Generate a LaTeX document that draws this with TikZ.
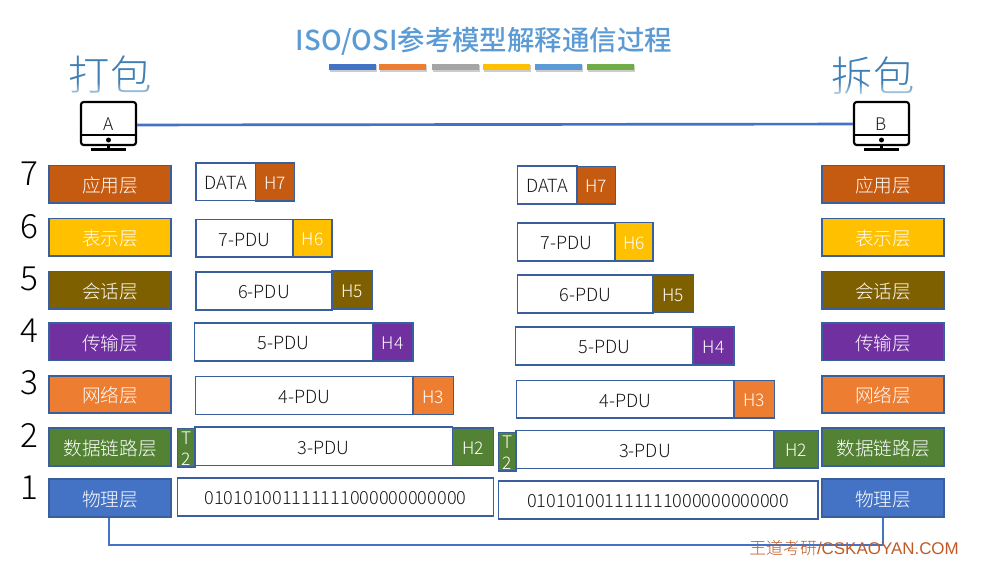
\documentclass[tikz,border=0pt]{standalone}
\usepackage{fontspec}
\setmainfont{Noto Sans CJK SC}[UprightFont=* Light,BoldFont=* Medium]
\newfontfamily\arialf{Liberation Sans}
\usetikzlibrary{fadings}
\definecolor{edge}{HTML}{3A5F9F}
\definecolor{cApp}{HTML}{C55A11}
\definecolor{cPre}{HTML}{FFC000}
\definecolor{cSes}{HTML}{7F6000}
\definecolor{cTra}{HTML}{7030A0}
\definecolor{cNet}{HTML}{ED7D31}
\definecolor{cDat}{HTML}{548235}
\definecolor{cPhy}{HTML}{4472C4}
\definecolor{cSky}{HTML}{5B9BD5}
\definecolor{cGry}{HTML}{A5A5A5}
\definecolor{cGrn}{HTML}{70AD47}
\definecolor{cHead}{HTML}{3F7FB5}
\definecolor{cMark}{HTML}{BF5B26}
\tikzset{
  layer/.style={rectangle,draw=edge,line width=0.8pt,inner sep=0pt,text=white,font=\fontsize{14}{16}\selectfont},
  pdu/.style={rectangle,draw=edge,line width=0.8pt,fill=white,inner sep=0pt,text=black!90,font=\fontsize{13.6}{15}\selectfont},
  hdr/.style={rectangle,draw=edge,line width=0.8pt,inner sep=0pt,text=white,font=\fontsize{13}{15}\selectfont},
  num/.style={inner sep=0pt,text=black,font=\fontsize{25}{28}\selectfont},
  link/.style={draw=cPhy,line width=2pt,line join=miter},
  screen/.style={rectangle,rounded corners=2pt,draw=black,line width=1.6pt,fill=white,inner sep=0pt,minimum width=41.25pt,minimum height=32.25pt},
  pack/.style={inner sep=0pt,text=cHead,font=\fontsize{31}{34}\selectfont}
}
% \bx{style}{name}{x1}{y1}{x2}{y2}{fill}{text}
\newcommand{\bx}[8]{\pgfmathsetmacro{\bw}{(#5-#3)*0.75}\pgfmathsetmacro{\bh}{(#6-#4)*0.75}%
  \node[#1,fill=#7,minimum width=\bw pt,minimum height=\bh pt] (#2) at ({(#3+#5)/2},{(#4+#6)/2}) {\raisebox{-1pt}[\height][\depth]{#8}};}
\newcommand{\stackedT}{\raisebox{0.3pt}[\height][\depth]{\vbox{\baselineskip=15.5pt\lineskiplimit=-20pt\hbox to 12pt{\hss T\hss}\hbox to 12pt{\hss 2\hss}}}}
\newcommand{\compu}[3]{%
  \node[screen] (#1) at (#2,123.5) {};
  \draw[black,line width=1.6pt] (#1.west |- 0,135) -- (#1.east |- 0,135);
  \fill[black] (#2,140) circle (2.5);
  \draw[black,line width=1.6pt] (#2,145) -- (#2,149);
  \draw[black,line width=1.6pt] (#2-17.5,149.5) -- (#2+17.5,149.5);
  \node[inner sep=0pt,font=\fontsize{13}{15}\selectfont,text=black!90] at (#2,124.5) {#3};}
\begin{document}
\begin{tikzpicture}[x=0.75pt,y=-0.75pt]
\useasboundingbox (0,0) rectangle (1003,568);
\fill[white] (0,0) rectangle (1003,568);
% title
\node[inner sep=0pt,text=cSky,font=\fontsize{20.6}{24}\selectfont\bfseries] (title) at (484,41) {ISO/OSI参考模型解释通信过程};
\foreach \a/\b/\c in {329/376/cPhy,379/426/cNet,432/479/cGry,483/530/cPre,535/582/cSky,587/634/cGrn}{
  \fill[black!20] (\a+1,65) rectangle (\b+1,71.5);
  \fill[\c] (\a,64) rectangle (\b,70);
}
% pack labels
\node[pack] (pa) at (110,75) {打包};
\node[pack] (pb) at (873,76) {拆包};
\fill[white,path fading=north] (60,82) rectangle (160,101);
\fill[white,path fading=north] (825,82) rectangle (925,101);
% computers
\compu{A}{108.5}{A}
\compu{B}{881.5}{B}
\draw[link] ([yshift=-1.1pt]A.east) -- ([yshift=-0.4pt]B.west);
% numbers
\foreach \n/\y in {7/174,6/227,5/279,4/331,3/383,2/435,1/488}{
  \node[num] (n\n) at (29,\y) {\n};
}
% left layers
\bx{layer}{la7}{49}{165.5}{171}{203}{cApp}{应用层}
\bx{layer}{la6}{49}{218.5}{171}{256}{cPre}{表示层}
\bx{layer}{la5}{49}{271.5}{171}{309}{cSes}{会话层}
\bx{layer}{la4}{49}{323}{171}{360.5}{cTra}{传输层}
\bx{layer}{la3}{49}{376}{171}{413}{cNet}{网络层}
\bx{layer}{la2}{49}{428}{171}{466}{cDat}{数据链路层}
\bx{layer}{la1}{49}{479}{171}{517}{cPhy}{物理层}
% right layers
\bx{layer}{lb7}{822}{165.5}{944}{203}{cApp}{应用层}
\bx{layer}{lb6}{822}{218.5}{944}{256}{cPre}{表示层}
\bx{layer}{lb5}{822}{271.5}{944}{309}{cSes}{会话层}
\bx{layer}{lb4}{822}{323}{944}{360.5}{cTra}{传输层}
\bx{layer}{lb3}{822}{376}{944}{413}{cNet}{网络层}
\bx{layer}{lb2}{822}{428}{944}{466}{cDat}{数据链路层}
\bx{layer}{lb1}{822}{479}{944}{517}{cPhy}{物理层}
% left packets
\bx{pdu}{d7}{196}{163}{255.5}{200.5}{white}{DATA}
\bx{hdr}{h7}{255.5}{163}{294.5}{201}{cApp}{H7}
\bx{pdu}{d6}{196}{219.5}{293}{257}{white}{7-PDU}
\bx{hdr}{h6}{293}{219.5}{332}{257}{cPre}{H6}
\bx{pdu}{d5}{196}{272}{332}{310}{white}{6-PDU}
\bx{hdr}{h5}{332}{271}{372.5}{309}{cSes}{H5}
\bx{pdu}{d4}{194.5}{323}{372.5}{361}{white}{5-PDU}
\bx{hdr}{h4}{372.5}{323}{413}{361}{cTra}{H4}
\bx{pdu}{d3}{195.5}{376.5}{413}{414.5}{white}{4-PDU}
\bx{hdr}{h3}{413}{376.5}{453.5}{414.5}{cNet}{H3}
\bx{hdr}{t2}{177.5}{428.5}{195}{467}{cDat}{\stackedT}
\bx{pdu}{d2}{195}{427}{452.5}{465.5}{white}{3-PDU}
\bx{hdr}{h2}{452.5}{428}{493.5}{465.5}{cDat}{H2}
\bx{pdu}{d1}{177.5}{478}{493.5}{516}{white}{010101001111111000000000000}
% right packets
\bx{pdu}{e7}{517.5}{166}{577}{204}{white}{DATA}
\bx{hdr}{g7}{577}{166.5}{615.5}{204}{cApp}{H7}
\bx{pdu}{e6}{517.5}{223}{615}{261}{white}{7-PDU}
\bx{hdr}{g6}{615}{222.5}{653}{261}{cPre}{H6}
\bx{pdu}{e5}{517.5}{275}{653}{313}{white}{6-PDU}
\bx{hdr}{g5}{653}{275}{693.5}{312.5}{cSes}{H5}
\bx{pdu}{e4}{515.5}{327}{693}{365}{white}{5-PDU}
\bx{hdr}{g4}{693}{327}{734}{365}{cTra}{H4}
\bx{pdu}{e3}{516.5}{380.5}{734}{418}{white}{4-PDU}
\bx{hdr}{g3}{734}{380.5}{774.5}{418}{cNet}{H3}
\bx{hdr}{u2}{498.5}{432.5}{516}{471}{cDat}{\stackedT}
\bx{pdu}{e2}{516}{430.5}{774}{468.5}{white}{3-PDU}
\bx{hdr}{g2}{774}{430.5}{818.5}{468}{cDat}{H2}
\bx{pdu}{e1}{498.5}{481}{818}{519}{white}{010101001111111000000000000}
% physical link
\coordinate (bend) at (0,545);
\draw[link] (la1.south -| 109,0) |- (bend -| 883,0) -- (lb1.south -| 883,0);
% watermark
\node[inner sep=0pt,text=cMark,anchor=west,font=\fontsize{12.7}{15}\selectfont] (mark) at (749,548) {王道考研{\arialf /CSKAOYAN.COM}};
\end{tikzpicture}
\end{document}
